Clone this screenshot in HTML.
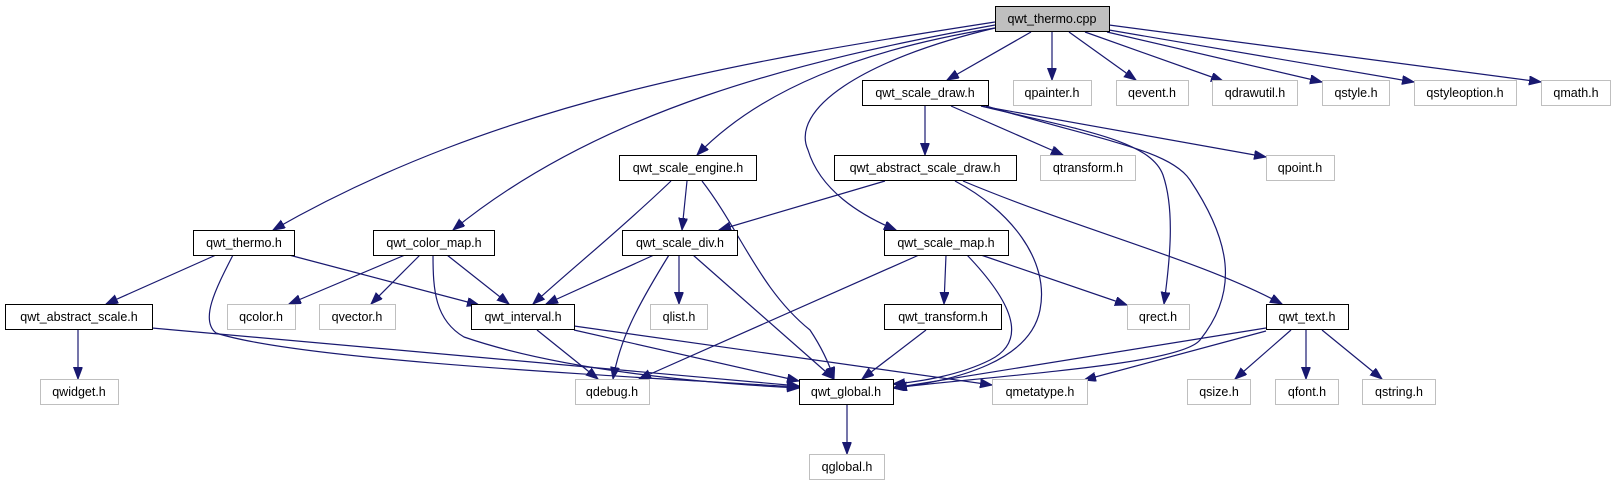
<!DOCTYPE html>
<html><head><meta charset="utf-8"><style>
body{margin:0;background:#fff;}
svg{display:block;}
text{font-family:"Liberation Sans",sans-serif;font-size:12.5px;text-anchor:middle;}
</style></head><body>
<svg width="1616" height="485" viewBox="0 0 1616 485" xmlns="http://www.w3.org/2000/svg">
<defs><marker id="a" markerWidth="13" markerHeight="10" refX="12" refY="4.5" orient="auto" markerUnits="userSpaceOnUse"><path d="M0,0 L12,4.5 L0,9 z" fill="#191970" stroke="#191970"/></marker></defs>
<g fill="none" stroke="#191970" stroke-width="1.2" marker-end="url(#a)">
<path d="M1031,32 L947,80"/>
<path d="M1052,32 L1052,80"/>
<path d="M1069,32 L1136,80"/>
<path d="M1085,32 L1223,81"/>
<path d="M1107,32 L1322,82"/>
<path d="M1109,30 L1414,82"/>
<path d="M1109,25 L1541,82"/>
<path d="M995,28 C860,60 790,110 808,150 C820,190 860,215 896,230"/>
<path d="M995,28 C860,50 760,90 697,155"/>
<path d="M995,25 C800,60 600,110 453,230"/>
<path d="M995,22 C750,60 500,100 273,230"/>
<path d="M925,106 L925,155"/>
<path d="M951,106 L1063,155"/>
<path d="M981,106 L1266,157"/>
<path d="M981,106 C1080,130 1150,140 1163,175 C1175,210 1170,260 1164,304"/>
<path d="M986,106 C1100,140 1170,150 1190,180 C1230,240 1240,290 1200,340 C1180,365 1000,375 893,388"/>
<path d="M885,181 L719,230"/>
<path d="M963,181 C1080,230 1200,260 1282,304"/>
<path d="M955,181 C1010,210 1050,260 1040,310 C1030,360 960,380 895,388"/>
<path d="M687,181 L682,230"/>
<path d="M671,181 C620,230 570,270 533,304"/>
<path d="M702,181 C740,230 760,290 810,330 C820,345 828,360 834,379"/>
<path d="M216,255 L106,304"/>
<path d="M289,255 L479,305"/>
<path d="M233,255 C215,290 200,320 216,333 C300,360 600,375 799,387"/>
<path d="M405,255 L289,304"/>
<path d="M420,255 L371,304"/>
<path d="M447,255 L509,304"/>
<path d="M433,255 C433,290 435,320 464,337 C560,370 700,383 799,388"/>
<path d="M654,255 L546,304"/>
<path d="M679,255 L679,304"/>
<path d="M669,255 C635,310 620,340 613,379"/>
<path d="M693,255 L834,379"/>
<path d="M152,328 L799,386"/>
<path d="M78,330 L78,379"/>
<path d="M537,330 L598,379"/>
<path d="M574,330 L799,381"/>
<path d="M574,326 L992,385"/>
<path d="M919,255 L639,379"/>
<path d="M946,255 L944,304"/>
<path d="M981,255 L1127,305"/>
<path d="M967,255 C1010,300 1030,340 990,360 C960,375 920,382 893,384"/>
<path d="M926,330 L862,379"/>
<path d="M1266,328 L893,388"/>
<path d="M1266,331 L1084,380"/>
<path d="M1291,330 L1235,379"/>
<path d="M1306,330 L1306,379"/>
<path d="M1322,330 L1382,379"/>
<path d="M847,405 L847,454"/>
</g>
<g stroke-width="1">
<rect x="995.5" y="6.5" width="114" height="25" fill="#bfbfbf" stroke="#000"/>
<g fill="#fff" stroke="#000">
<rect x="862.5" y="80.5" width="126" height="25"/>
<rect x="834.5" y="155.5" width="182" height="25"/>
<rect x="619.5" y="155.5" width="137" height="25"/>
<rect x="193.5" y="230.5" width="101" height="25"/>
<rect x="373.5" y="230.5" width="121" height="25"/>
<rect x="622.5" y="230.5" width="115" height="25"/>
<rect x="884.5" y="230.5" width="124" height="25"/>
<rect x="5.5" y="304.5" width="147" height="25"/>
<rect x="471.5" y="304.5" width="103" height="25"/>
<rect x="884.5" y="304.5" width="117" height="25"/>
<rect x="1266.5" y="304.5" width="82" height="25"/>
<rect x="799.5" y="379.5" width="94" height="25"/>
</g>
<g fill="#fff" stroke="#bfbfbf">
<rect x="1013.5" y="80.5" width="78" height="25"/>
<rect x="1116.5" y="80.5" width="72" height="25"/>
<rect x="1212.5" y="80.5" width="85" height="25"/>
<rect x="1322.5" y="80.5" width="67" height="25"/>
<rect x="1414.5" y="80.5" width="102" height="25"/>
<rect x="1541.5" y="80.5" width="69" height="25"/>
<rect x="1040.5" y="155.5" width="95" height="25"/>
<rect x="1266.5" y="155.5" width="68" height="25"/>
<rect x="227.5" y="304.5" width="68" height="25"/>
<rect x="319.5" y="304.5" width="76" height="25"/>
<rect x="650.5" y="304.5" width="57" height="25"/>
<rect x="1127.5" y="304.5" width="62" height="25"/>
<rect x="40.5" y="379.5" width="78" height="25"/>
<rect x="575.5" y="379.5" width="74" height="25"/>
<rect x="992.5" y="379.5" width="95" height="25"/>
<rect x="1187.5" y="379.5" width="63" height="25"/>
<rect x="1275.5" y="379.5" width="63" height="25"/>
<rect x="1362.5" y="379.5" width="73" height="25"/>
<rect x="809.5" y="454.5" width="75" height="25"/>
</g>
</g>
<g fill="#000">
<text x="1052" y="23">qwt_thermo.cpp</text>
<text x="925" y="97">qwt_scale_draw.h</text>
<text x="1052" y="97">qpainter.h</text>
<text x="1152" y="97">qevent.h</text>
<text x="1255" y="97">qdrawutil.h</text>
<text x="1356" y="97">qstyle.h</text>
<text x="1465" y="97">qstyleoption.h</text>
<text x="1576" y="97">qmath.h</text>
<text x="925" y="172">qwt_abstract_scale_draw.h</text>
<text x="688" y="172">qwt_scale_engine.h</text>
<text x="1088" y="172">qtransform.h</text>
<text x="1300" y="172">qpoint.h</text>
<text x="244" y="247">qwt_thermo.h</text>
<text x="434" y="247">qwt_color_map.h</text>
<text x="680" y="247">qwt_scale_div.h</text>
<text x="946" y="247">qwt_scale_map.h</text>
<text x="79" y="321">qwt_abstract_scale.h</text>
<text x="261" y="321">qcolor.h</text>
<text x="357" y="321">qvector.h</text>
<text x="523" y="321">qwt_interval.h</text>
<text x="679" y="321">qlist.h</text>
<text x="943" y="321">qwt_transform.h</text>
<text x="1158" y="321">qrect.h</text>
<text x="1307" y="321">qwt_text.h</text>
<text x="79" y="396">qwidget.h</text>
<text x="612" y="396">qdebug.h</text>
<text x="846" y="396">qwt_global.h</text>
<text x="1040" y="396">qmetatype.h</text>
<text x="1219" y="396">qsize.h</text>
<text x="1307" y="396">qfont.h</text>
<text x="1399" y="396">qstring.h</text>
<text x="847" y="471">qglobal.h</text>
</g>
</svg>
</body></html>
